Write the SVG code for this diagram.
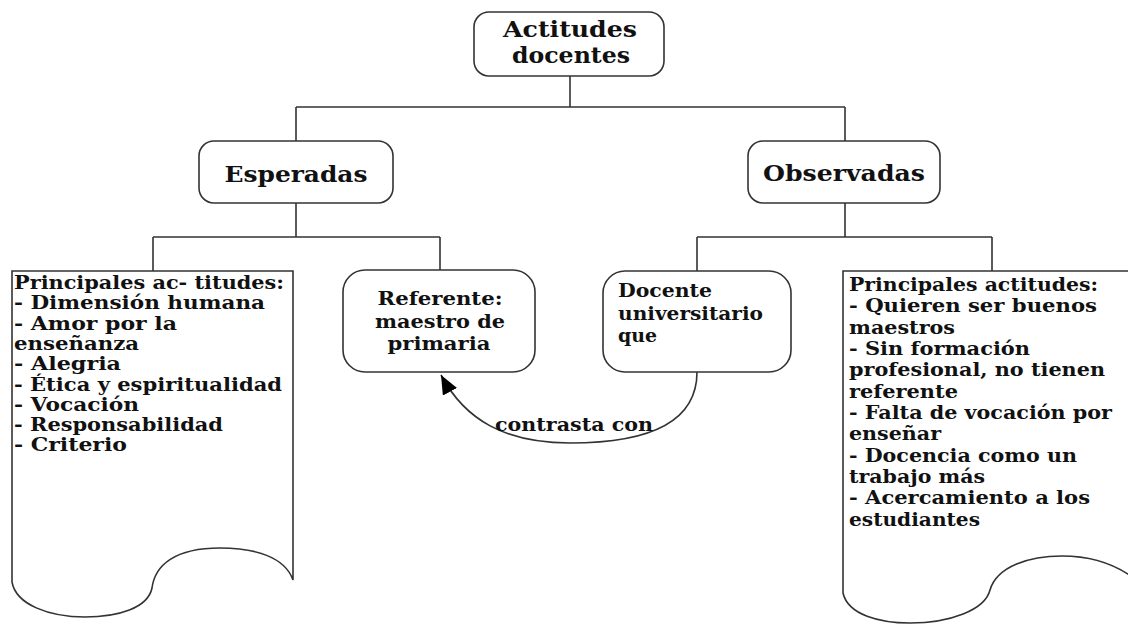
<svg xmlns="http://www.w3.org/2000/svg" width="1128" height="625" viewBox="0 0 1128 625">
<style>
.box{fill:#fff;stroke:#333;stroke-width:1.6}
.ln{fill:none;stroke:#333;stroke-width:1.6}
text{font-family:"DejaVu Serif","Liberation Serif",serif;font-weight:bold;fill:#111}
.t20{font-size:21.5px}
.t17{font-size:18.5px}
.mid{text-anchor:middle}
</style>
<defs>
<marker id="ah" markerUnits="userSpaceOnUse" markerWidth="22" markerHeight="16" refX="19" refY="8" orient="auto">
<path d="M0,0 L19,8 L0,16 Z" fill="#000"/>
</marker>
</defs>
<rect width="1128" height="625" fill="#fff"/>
<g id="connectors">
<path class="ln" d="M570,76 V107 M296,107 H845 M296,107 V141 M845,107 V141"/>
<path class="ln" d="M296,203 V237 M153,237 H440 M153,237 V271 M440,237 V270"/>
<path class="ln" d="M845,203 V237 M697,237 H992 M697,237 V271 M992,237 V271"/>
<path class="ln" d="M697,372 C697,425 645,443 570,443 C505,443 465,420 441,375" marker-end="url(#ah)"/>
<text class="t17" x="495" y="431" textLength="158" lengthAdjust="spacingAndGlyphs">contrasta con</text>
</g>
<g id="actitudes">
<rect class="box" x="474" y="12" width="190" height="64" rx="15"/>
<text class="t20 mid" x="570" y="37" textLength="134" lengthAdjust="spacingAndGlyphs">Actitudes</text>
<text class="t20 mid" x="571" y="63" textLength="118" lengthAdjust="spacingAndGlyphs">docentes</text>
</g>
<g id="esperadas">
<rect class="box" x="199" y="141" width="194" height="62" rx="15"/>
<text class="t20 mid" x="296" y="182" textLength="143" lengthAdjust="spacingAndGlyphs">Esperadas</text>
</g>
<g id="observadas">
<rect class="box" x="748" y="141" width="192" height="62" rx="15"/>
<text class="t20 mid" x="844" y="181" textLength="162" lengthAdjust="spacingAndGlyphs">Observadas</text>
</g>
<g id="principales-esperadas">
<path class="box" d="M12,271 H293 V580 C285,557 255,548 220,548 C175,548 155,565 152,588 C148,608 118,617 85,617 C50,617 16,605 12,582 Z"/>
<text class="t17" x="14" y="289" textLength="270" lengthAdjust="spacingAndGlyphs">Principales ac- titudes:</text>
<text class="t17" x="14" y="309" textLength="251" lengthAdjust="spacingAndGlyphs">- Dimensión humana</text>
<text class="t17" x="14" y="330" textLength="163" lengthAdjust="spacingAndGlyphs">- Amor por la</text>
<text class="t17" x="14" y="350" textLength="125" lengthAdjust="spacingAndGlyphs">enseñanza</text>
<text class="t17" x="14" y="370" textLength="107" lengthAdjust="spacingAndGlyphs">- Alegria</text>
<text class="t17" x="14" y="391" textLength="268" lengthAdjust="spacingAndGlyphs">- Ética y espiritualidad</text>
<text class="t17" x="14" y="411" textLength="125" lengthAdjust="spacingAndGlyphs">- Vocación</text>
<text class="t17" x="14" y="431" textLength="209" lengthAdjust="spacingAndGlyphs">- Responsabilidad</text>
<text class="t17" x="14" y="451" textLength="113" lengthAdjust="spacingAndGlyphs">- Criterio</text>
</g>
<g id="referente">
<rect class="box" x="343" y="270" width="192" height="102" rx="22"/>
<text class="t17 mid" x="440" y="305" textLength="125" lengthAdjust="spacingAndGlyphs">Referente:</text>
<text class="t17 mid" x="440" y="328" textLength="130" lengthAdjust="spacingAndGlyphs">maestro de</text>
<text class="t17 mid" x="439" y="350" textLength="103" lengthAdjust="spacingAndGlyphs">primaria</text>
</g>
<g id="docente">
<rect class="box" x="603" y="271" width="188" height="101" rx="22"/>
<text class="t17" x="618" y="297" textLength="94" lengthAdjust="spacingAndGlyphs">Docente</text>
<text class="t17" x="618" y="320" textLength="145" lengthAdjust="spacingAndGlyphs">universitario</text>
<text class="t17" x="618" y="342" textLength="39" lengthAdjust="spacingAndGlyphs">que</text>
</g>
<g id="principales-observadas">
<path class="box" d="M1140,583 V271 H843 V593 C848,615 880,623 910,623 C950,623 985,610 990,590 C997,566 1030,556 1062,556 C1095,556 1120,566 1140,583 Z"/>
<text class="t17" x="849" y="291" textLength="249" lengthAdjust="spacingAndGlyphs">Principales actitudes:</text>
<text class="t17" x="849" y="312" textLength="248" lengthAdjust="spacingAndGlyphs">- Quieren ser buenos</text>
<text class="t17" x="849" y="334" textLength="106" lengthAdjust="spacingAndGlyphs">maestros</text>
<text class="t17" x="849" y="355" textLength="181" lengthAdjust="spacingAndGlyphs">- Sin formación</text>
<text class="t17" x="849" y="376" textLength="256" lengthAdjust="spacingAndGlyphs">profesional, no tienen</text>
<text class="t17" x="849" y="398" textLength="109" lengthAdjust="spacingAndGlyphs">referente</text>
<text class="t17" x="849" y="419" textLength="263" lengthAdjust="spacingAndGlyphs">- Falta de vocación por</text>
<text class="t17" x="849" y="440" textLength="92" lengthAdjust="spacingAndGlyphs">enseñar</text>
<text class="t17" x="849" y="462" textLength="228" lengthAdjust="spacingAndGlyphs">- Docencia como un</text>
<text class="t17" x="849" y="483" textLength="136" lengthAdjust="spacingAndGlyphs">trabajo más</text>
<text class="t17" x="849" y="504" textLength="241" lengthAdjust="spacingAndGlyphs">- Acercamiento a los</text>
<text class="t17" x="849" y="526" textLength="131" lengthAdjust="spacingAndGlyphs">estudiantes</text>
</g>
</svg>
